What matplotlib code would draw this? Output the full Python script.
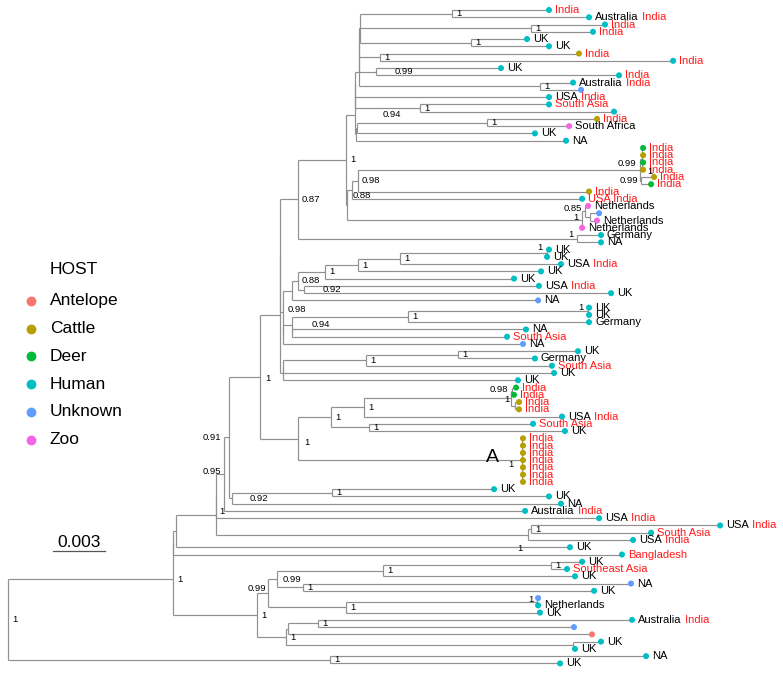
import matplotlib
matplotlib.use("Agg")
import matplotlib.pyplot as plt
from matplotlib.collections import LineCollection

plt.rcParams['font.family'] = ['Liberation Sans', 'DejaVu Sans']

# host categories and ggplot-style hue colours
hosts = ['Antelope', 'Cattle', 'Deer', 'Human', 'Unknown', 'Zoo']
host_codes = ['A', 'C', 'D', 'H', 'U', 'Z']
host_colors = ['#F8766D', '#B79F00', '#00BA38', '#00BFC4', '#619CFF', '#F564E3']

# tips, top to bottom
tip_host = list('HHHHHHCHHHHUHHHCZHH' 'DCDCCDCHZUZZHH'
                'HHHHHHHU' 'HHHHH' 'U' 'HHHHH' 'DDCC' 'HHH' 'CCCCCCC'
                'HHHHHHHHHHHHH' 'U' 'H' 'U' 'HHH' 'U' 'A' 'HHHH')
tip_place = ['', 'Australia', '', '', 'UK', 'UK', '', '', 'UK', '', 'Australia', '', 'USA', '', '', '',
             'South Africa', 'UK', 'NA', '', '', '', '', '', '', '', '', 'Netherlands', '', 'Netherlands',
             'Netherlands', 'Germany', 'NA', 'UK', 'UK', 'USA', 'UK', 'UK', 'USA', 'UK', 'NA', 'UK', 'UK',
             'Germany', 'NA', '', 'NA', 'UK', 'Germany', '', 'UK', 'UK', '', '', '', '', 'USA', '', 'UK',
             '', '', '', '', '', '', '', 'UK', 'UK', 'NA', 'Australia', 'USA', 'USA', '', 'USA', 'UK', '',
             'UK', '', 'UK', 'NA', 'UK', '', 'Netherlands', 'UK', 'Australia', '', '', 'UK', 'UK', 'NA', 'UK']
tip_origin = ['India', 'India', 'India', 'India', '', '', 'India', 'India', '', 'India', 'India', '', 'India',
              'South Asia', '', 'India', '', '', '', 'India', 'India', 'India', 'India', 'India', 'India',
              'India', 'USA India', '', '', '', '', '', '', '', '', 'India', '', '', 'India', '', '', '', '',
              '', '', 'South Asia', '', '', '', 'South Asia', '', '', 'India', 'India', 'India', 'India',
              'India', 'South Asia', '', 'India', 'India', 'India', 'India', 'India', 'India', 'India', '', '',
              '', 'India', 'India', 'India', 'South Asia', 'India', '', 'Bangladesh', '', 'Southeast Asia',
              '', '', '', '', '', '', 'India', '', '', '', '', '', '']
# distance from root (substitutions/site)
tip_depth = [0.03121, 0.03352, 0.03444, 0.03375, 0.02994, 0.03121, 0.03294, 0.03837, 0.02844, 0.03525,
             0.03260, 0.03306, 0.03121, 0.03121, 0.03496, 0.03398, 0.03237, 0.03040, 0.03219,
             0.03664, 0.03664, 0.03664, 0.03664, 0.03727, 0.03710, 0.03352, 0.03312, 0.03346, 0.03410,
             0.03398, 0.03312, 0.03421, 0.03421,
             0.03121, 0.03110, 0.03190, 0.03075, 0.02919, 0.03063, 0.03479, 0.03058, 0.03352, 0.03352,
             0.03352, 0.02988, 0.02879, 0.02971, 0.03288, 0.03040, 0.03138, 0.03150, 0.02942,
             0.02931, 0.02919, 0.02948, 0.02948, 0.03196, 0.03029, 0.03213,
             0.02971, 0.02971, 0.02971, 0.02971, 0.02971, 0.02971, 0.02971,
             0.02804, 0.03121, 0.03190, 0.02983, 0.03410, 0.04108, 0.03710, 0.03606, 0.03242, 0.03542,
             0.03312, 0.03225, 0.03271, 0.03594, 0.03381, 0.03058, 0.03058, 0.03069, 0.03600, 0.03265,
             0.03369, 0.03421, 0.03271, 0.03681, 0.03185]


def N(depth, support, *kids, key=None):
    return {'d': depth, 's': support, 'kids': kids, 'key': key}


# topology: ints are tip numbers (1-based), N(depth, posterior support, children...)
na = N(0.02031, '', N(0.02562, '1', 1, 2), N(0.03017, '1', 3, 4), N(0.02671, '1', 5, 6))
g1 = N(0.02025, '',
       N(0.02025, '',
         N(0.02025, '', na, N(0.02146, '1', 7, 8)),
         N(0.02123, '0.99', 9, 10, key='n376')),
       N(0.03069, '1', 11, 12))
c_grp = N(0.02002, '',
          N(0.02002, '', N(0.02002, '', g1, 13), N(0.02377, '1', 14, 15)),
          N(0.02008, '', N(0.02013, '0.94', N(0.02763, '1', 16, 17), 18, key='n094'), 19))
india = N(0.03646, '0.99',
          N(0.03658, '1', 20, 21, 22, 23, key='p'),
          N(0.03652, '0.99', 24, 25, key='l0'), key='ind')
n088 = N(0.01985, '0.88', N(0.02019, '0.98', india, 26), 27, key='n088')
neth = N(0.03312, '1', N(0.03329, '0.85', 28, N(0.03358, '', 29, 30), key='l3'), 31, key='l4')
top_clade = N(0.01673, '0.87',
              N(0.01950, '1', c_grp, N(0.01956, '', n088, neth)),
              N(0.03283, '1', 32, 33, key='l5'))

q4 = N(0.01829, '1',
       N(0.02019, '1', N(0.02262, '1', N(0.03110, '1', 34, 35, key='l6'), 36), 37),
       38)
r_grp = N(0.01638, '', N(0.01673, '0.88', q4, N(0.01708, '0.92', 39, 40, key='r19')), 41)
s_grp = N(0.01638, '0.94',
          N(0.02308, '1', N(0.03346, '1', 42, 43, key='l5'), 44),
          N(0.01638, '', 45, 46), key='r20')
n098 = N(0.01587, '0.98', r_grp, N(0.01587, '', s_grp, 47), key='n098b')
v_grp = N(0.01587, '',
          N(0.01587, '', N(0.02065, '1', N(0.02596, '1', 48, 49), 50), 51),
          52)
m_grp = N(0.01569, '', N(0.01569, '', top_clade, n098), v_grp)
x3 = N(0.01863, '1',
       N(0.02054, '1',
         N(0.02902, '', N(0.02908, '0.98', 53, 54, key='l4'), N(0.02925, '1', 55, 56, key='l6')),
         57),
       N(0.02083, '1', 58, 59))
clade_a = N(0.02965, '1', 60, 61, 62, 63, 64, 65, 66, key='a')
mid_clade = N(0.01454, '1', m_grp, N(0.01673, '1', x3, clade_a, key='x4'), key='d2')

n095 = N(0.01246, '0.95',
         N(0.01275, '0.91', mid_clade,
           N(0.01292, '0.92', N(0.01869, '1', 67, 68), 69, key='r18'), key='l8'),
         70, key='l3')
k_grp = N(0.01200, '1',
          N(0.01200, '', n095, 71),
          N(0.03000, '1', N(0.03017, '1', 72, 73), 74, key='z2'), key='k')
low_clade = N(0.01437, '1',
              N(0.01500, '0.99',
                N(0.01552, '0.99',
                  N(0.02163, '1', N(0.03133, '1', 77, 78), 79),
                  N(0.01702, '1', 80, 81), key='r6'),
                N(0.01950, '1', N(0.03052, '1', 82, 83, key='l4'), 84), key='l2'),
              N(0.01604, '1',
                N(0.01615, '', N(0.01788, '1', 85, 86), 87),
                N(0.03260, '', 88, 89)))
tree = N(0.0, '1',
         N(0.00952, '1',
           N(0.00952, '', N(0.00969, '', k_grp, 75), 76),
           low_clade),
         N(0.01858, '1', 90, 91))

# label nudges in pixels: (dx, dy downward, ha)
nudge = {'n376': (19, 0, 'left'), 'n094': (26, -13, 'left'), 'p': (5, 13, 'left'),
         'l0': (-3, 0, 'right'), 'ind': (-4, -6, 'right'), 'n088': (1, 6, 'left'),
         'l3': (-3, -3, 'right'), 'l4': (-4, -2, 'right'), 'l5': (-4, -4, 'right'),
         'l6': (-5, -6, 'right'), 'r19': (19, 0, 'left'), 'r20': (20, 0, 'left'),
         'n098b': (5, -3, 'left'), 'a': (-8, 4, 'right'), 'd2': (5, 2, 'left'), 'x4': (6, 4, 'left'),
         'l8': (-8, 0, 'right'), 'r18': (18, 0, 'left'), 'k': (3, -4, 'left'),
         'z2': (-5, 14, 'right'), 'r6': (6, 0, 'left'), 'l2': (-2, -5, 'right')}

segs = []
nodes = []


def place(node):
    if isinstance(node, int):
        return tip_depth[node - 1], node - 1
    ys = []
    for kid in node['kids']:
        kd, ky = place(kid)
        segs.append([(node['d'], ky), (kd, ky)])
        ys.append(ky)
    y = sum(ys) / len(ys)
    segs.append([(node['d'], min(ys)), (node['d'], max(ys))])
    nodes.append((node, y))
    return node['d'], y


place(tree)

fig = plt.figure(figsize=(7.83, 6.73), dpi=100)
ax = fig.add_axes([0, 0, 1, 1])
ax.set_xlim(-0.000462, 0.04471)
ax.set_ylim(91.32, -1.377)
ax.axis('off')

ax.add_collection(LineCollection(segs, colors='#909090', linewidths=0.85))

cmap = dict(zip(host_codes, host_colors))
ax.scatter(tip_depth, range(len(tip_depth)), s=19, c=[cmap[h] for h in tip_host], zorder=3, linewidths=0)

for i, (d, place_, origin) in enumerate(zip(tip_depth, tip_place, tip_origin)):
    if place_:
        t = ax.annotate(place_, (d, i), xytext=(6, 0), textcoords='offset pixels',
                        va='center', fontsize=8, color='black')
        if origin:
            ax.annotate(' ' + origin, xy=(1, 0), xycoords=t, va='bottom', fontsize=8, color='#ff1a1a')
    elif origin:
        ax.annotate(origin, (d, i), xytext=(6, 0), textcoords='offset pixels',
                    va='center', fontsize=8, color='#ff1a1a')

for node, y in nodes:
    if not node['s']:
        continue
    dx, dy, ha = nudge.get(node['key'], (4, 0, 'left'))
    ax.annotate(node['s'], (node['d'], y), xytext=(dx, -dy), textcoords='offset pixels',
                ha=ha, va='center', fontsize=6.8, color='black')
    if node['key'] == 'a':
        ax.annotate('A', (node['d'], y), xytext=(-30, 3), textcoords='offset pixels',
                    ha='center', va='center', fontsize=14)

# scale bar
ax.plot([0.0026, 0.0056], [74.5, 74.5], color='#555555', lw=0.9)
ax.text(0.0041, 73.4, '0.003', ha='center', va='center', fontsize=12.5)

# legend
W, H = 783, 673
fig.text(50 / W, 1 - 270 / H, 'HOST', fontsize=12.5, va='center')
for j, (name, col) in enumerate(zip(hosts, host_colors)):
    yy = 1 - (301 + 27.7 * j) / H
    fig.text(50 / W, yy, name, fontsize=12.5, va='center')
    ax.scatter([31 / W], [yy], s=50, color=col, transform=fig.transFigure, linewidths=0, clip_on=False)

fig.savefig('out.png', dpi=100)
